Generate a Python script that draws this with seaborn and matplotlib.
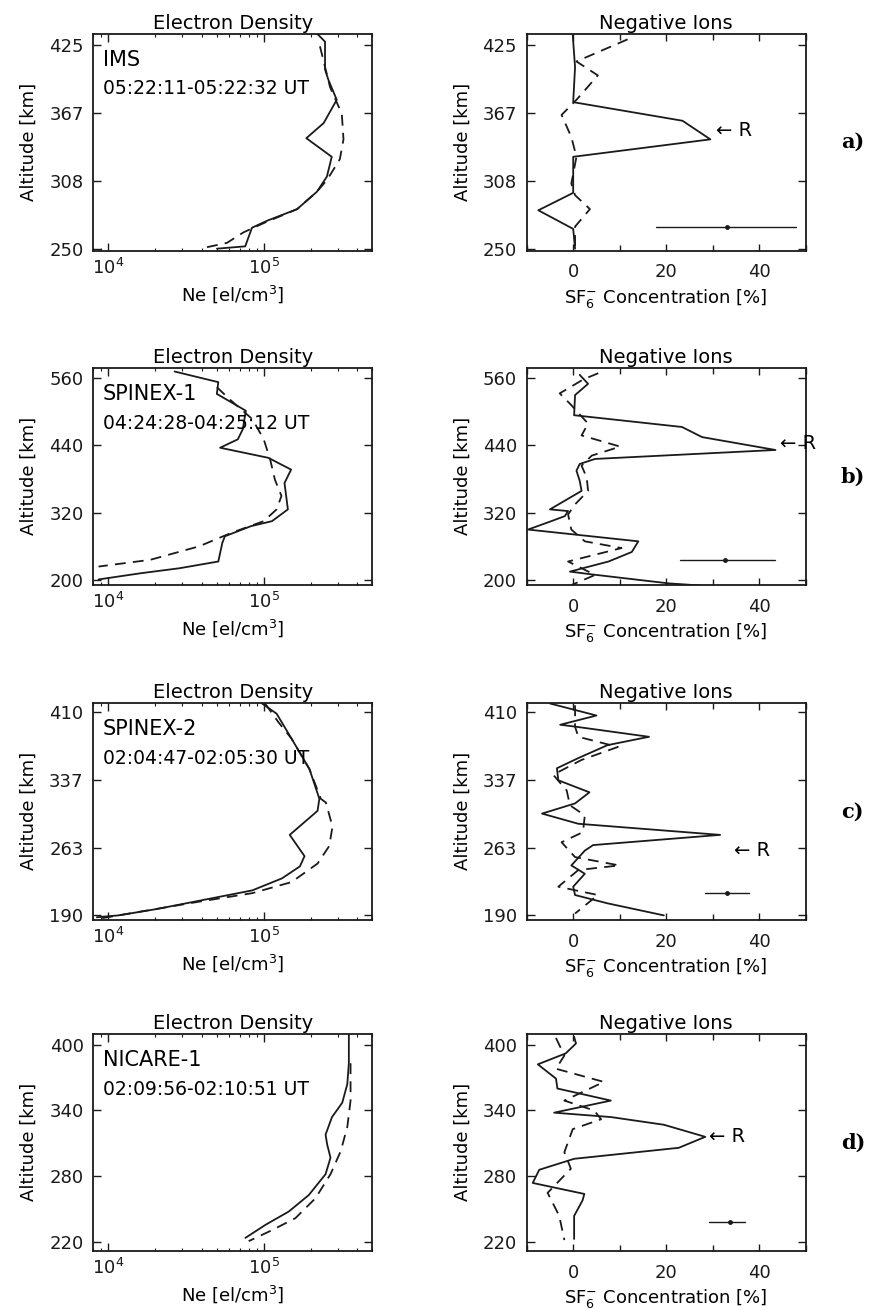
import numpy as np
import matplotlib
matplotlib.use("Agg")
import matplotlib.pyplot as plt
from matplotlib.ticker import MultipleLocator, NullFormatter
import seaborn as sns

# ---- data ----
# panel a) IMS
a_ne_alt = [435, 428, 404, 395, 378, 358, 345, 329, 312, 299, 284, 274, 268, 252, 250]
a_ne = [2.2e5, 2.48e5, 2.48e5, 2.61e5, 2.95e5, 2.43e5, 1.88e5, 2.74e5, 2.55e5, 2.2e5, 1.64e5, 1.05e5, 8.4e4, 7.6e4, 5.0e4]
a_ne_mod_alt = [424, 389, 366, 344, 327, 318, 309, 299, 284, 272, 264, 255, 250]
a_ne_mod = [2.3e5, 2.67e5, 3.18e5, 3.26e5, 3.09e5, 2.81e5, 2.55e5, 2.2e5, 1.64e5, 1.0e5, 7.4e4, 5.8e4, 3.9e4]
a_sf6_alt = [434, 406, 376, 360, 344, 329, 298, 283, 267, 250]
a_sf6 = [-0.1, 0.4, 0, 23.5, 29.5, 0, 0, -7.5, 0, 0.4]
a_sf6_mod_alt = [430, 411, 399, 378, 365, 346, 329, 306, 296, 284, 269, 250]
a_sf6_mod = [11.7, 0.7, 5.3, 0.7, -2.5, -0.4, 0.7, -0.4, 0.4, 3.6, 0.4, 0.4]

# panel b) SPINEX-1
b_ne_alt = [572, 553, 532, 502, 469, 451, 436, 418, 397, 373, 346, 326, 305, 296, 278, 266, 233, 221, 212, 201]
b_ne = [2.67e4, 5.1e4, 4.99e4, 7.67e4, 7.33e4, 6.81e4, 5.24e4, 1.07e5, 1.5e5, 1.36e5, 1.4e5, 1.43e5, 1.13e5, 8.26e4,
        5.62e4, 5.41e4, 5.1e4, 2.87e4, 1.61e4, 8.65e3]
b_ne_mod_alt = [544, 520, 487, 451, 415, 379, 350, 326, 305, 284, 260, 236, 224]
b_ne_mod = [4.99e4, 6.17e4, 8.45e4, 1.0e5, 1.1e5, 1.18e5, 1.3e5, 1.21e5, 1.0e5, 6.17e4, 3.83e4, 1.86e4, 8.65e3]
b_sf6_alt = [566, 550, 530, 494, 473, 455, 432, 416, 407, 395, 377, 359, 326, 323, 314, 305, 290, 269, 250, 233,
             215, 210, 194, 190]
b_sf6 = [1.4, 3.2, 0.4, 0.2, 23.4, 27.7, 43.5, 4.7, 1.4, 0.7, 1.4, 1.8, -5.0, -1.1, -1.8, -4.7, -9.7, 14.0, 12.6,
         7.6, -0.7, 4.0, 20.5, 27.7]
b_sf6_mod_alt = [569, 558, 533, 512, 479, 458, 438, 422, 404, 383, 359, 335, 317, 290, 269, 257, 233, 209, 191]
b_sf6_mod = [5.4, 2.2, -2.9, -0.4, 3.2, 1.8, 10.1, 4.0, 1.8, 2.9, 3.2, 0.4, -1.1, -0.4, 2.5, 10.4, -1.1, 4.7, -0.4]

# panel c) SPINEX-2
c_ne_alt = [419, 408, 381, 348, 316, 303, 277, 254, 243, 230, 217, 206, 197, 190, 188]
c_ne = [9.75e4, 1.21e5, 1.51e5, 1.97e5, 2.28e5, 2.22e5, 1.47e5, 1.83e5, 1.71e5, 1.31e5, 8.43e4, 3.89e4, 2.07e4,
        1.16e4, 8.43e3]
c_ne_mod_alt = [419, 399, 381, 348, 316, 312, 286, 265, 246, 226, 214, 205, 190, 186]
c_ne_mod = [1.02e5, 1.24e5, 1.51e5, 1.97e5, 2.33e5, 2.51e5, 2.77e5, 2.64e5, 2.22e5, 1.51e5, 8.43e4, 3.89e4, 1.16e4, 8.43e3]
c_sf6_alt = [419, 406, 396, 394, 383, 374, 360, 349, 336, 323, 311, 300, 289, 277, 266, 260, 244, 235, 221, 212, 203, 190]
c_sf6 = [-5.0, 5.0, -2.8, 0.4, 16.3, 7.4, 1.1, -3.5, -3.2, 3.5, 0.4, -6.7, 1.1, 31.6, 4.3, 2.5, -0.4, 2.5, 0, 0.4, 7.4, 19.5]
c_sf6_mod_alt = [417, 394, 383, 372, 358, 342, 325, 309, 298, 280, 269, 253, 244, 239, 221, 212, 192]
c_sf6_mod = [0.4, 0.4, 1.1, 9.6, 1.8, -4.3, -1.4, -0.7, 2.5, 2.1, -2.5, 0.4, 9.9, 1.1, -3.2, 5.3, 0.4]

# panel d) NICARE-1
d_ne_alt = [410, 383, 364, 347, 334, 318, 309, 297, 282, 263, 248, 236, 224]
d_ne = [3.53e5, 3.53e5, 3.45e5, 3.2e5, 2.75e5, 2.5e5, 2.56e5, 2.69e5, 2.5e5, 1.95e5, 1.45e5, 1.03e5, 7.62e4]
d_ne_mod_alt = [383, 349, 325, 303, 282, 260, 242, 231, 221]
d_ne_mod = [3.62e5, 3.62e5, 3.45e5, 3.13e5, 2.69e5, 2.15e5, 1.6e5, 1.13e5, 8.0e4]
d_sf6_alt = [407, 401, 392, 382, 369, 360, 349, 338, 334, 327, 316, 306, 296, 286, 274, 264, 258, 244, 223]
d_sf6 = [0.2, 0.6, -1.6, -7.6, -3.7, -3.4, 8.1, -4.1, 8.1, 19.5, 28.4, 22.7, 0.2, -7.3, -8.7, 2.4, 2.0, 0.2, 0.2]
d_sf6_mod_alt = [406, 390, 378, 366, 349, 340, 332, 323, 302, 287, 265, 244, 222]
d_sf6_mod = [-3.7, -1.9, -3.7, 6.6, -1.9, 4.5, 6.0, -0.1, -1.9, -0.5, -5.5, -3.0, -1.9]

rockets = ["IMS", "SPINEX-1", "SPINEX-2", "NICARE-1"]
times = ["05:22:11-05:22:32 UT", "04:24:28-04:25:12 UT", "02:04:47-02:05:30 UT", "02:09:56-02:10:51 UT"]
panel_tags = ["a)", "b)", "c)", "d)"]
alt_lo = [250, 200, 190, 220]
alt_hi = [425, 560, 410, 400]
ylims = [(248, 435), (191, 579), (185, 420), (212, 410)]
r_alt = [352, 443, 260, 316]
r_x = [30.8, 44.5, 34.5, 29.3]
err_lo = [17.8, 23.0, 28.4, 29.1]
err_hi = [48.0, 43.5, 37.9, 37.0]
err_mid = [33.0, 32.7, 33.0, 33.8]
err_alt = [268.8, 236, 214.5, 238.3]

ne_sets = [(a_ne, a_ne_alt, a_ne_mod, a_ne_mod_alt), (b_ne, b_ne_alt, b_ne_mod, b_ne_mod_alt),
           (c_ne, c_ne_alt, c_ne_mod, c_ne_mod_alt), (d_ne, d_ne_alt, d_ne_mod, d_ne_mod_alt)]
sf6_sets = [(a_sf6, a_sf6_alt, a_sf6_mod, a_sf6_mod_alt), (b_sf6, b_sf6_alt, b_sf6_mod, b_sf6_mod_alt),
            (c_sf6, c_sf6_alt, c_sf6_mod, c_sf6_mod_alt), (d_sf6, d_sf6_alt, d_sf6_mod, d_sf6_mod_alt)]

sns.set_theme(style="ticks")
plt.rcParams['font.family'] = ['DejaVu Sans']
plt.rcParams['axes.linewidth'] = 1.3
for key in ['text.color', 'axes.labelcolor', 'xtick.color', 'ytick.color', 'axes.edgecolor']:
    plt.rcParams[key] = 'black'

fig = plt.figure(figsize=(8.72, 13.1), dpi=100)

row_bottoms = [0.8084, 0.5534, 0.2977, 0.045]
row_h = 0.166
LW = 1.3


def style_axis(ax, lo, hi, ylim):
    ticks = np.linspace(lo, hi, 4)
    ax.set_yticks(ticks)
    ax.set_yticklabels([f"{t:.0f}" for t in ticks])
    ax.set_ylim(*ylim)
    ax.tick_params(which='both', direction='in', top=True, right=True, colors='k', labelsize=13)
    ax.tick_params(axis='y', which='major', length=6, width=1, pad=7)
    ax.set_ylabel("Altitude [km]", fontsize=13, labelpad=8)
    for s in ax.spines.values():
        s.set_color('k')


for i in range(4):
    yb = row_bottoms[i]
    # electron density
    ax = fig.add_axes([0.107, yb, 0.32, row_h])
    ne, ne_alt, ne_mod, ne_mod_alt = ne_sets[i]
    sns.lineplot(x=ne, y=ne_alt, sort=False, estimator=None, color='k', lw=LW, ax=ax)
    sns.lineplot(x=ne_mod, y=ne_mod_alt, sort=False, estimator=None, color='k', lw=LW,
                 linestyle=(0, (6, 4)), ax=ax)
    ax.set_xscale('log')
    ax.set_xlim(8e3, 5e5)
    ax.set_xticks([1e4, 1e5])
    ax.set_xticklabels([r"$10^4$", r"$10^5$"])
    ax.xaxis.set_minor_formatter(NullFormatter())
    style_axis(ax, alt_lo[i], alt_hi[i], ylims[i])
    ax.tick_params(axis='x', which='major', length=6, width=1, pad=5)
    ax.tick_params(axis='x', which='minor', length=2, width=0.8)
    ax.set_xlabel(r"Ne [el/cm$^3$]", fontsize=13, labelpad=4)
    ax.set_title("Electron Density", fontsize=14, pad=3)
    ax.text(0.035, 0.88, rockets[i], transform=ax.transAxes, fontsize=15, va='center', ha='left')
    ax.text(0.035, 0.745, times[i], transform=ax.transAxes, fontsize=13.5, va='center', ha='left')

    # negative ions
    ax2 = fig.add_axes([0.604, yb, 0.32, row_h])
    sf, sf_alt, sf_mod, sf_mod_alt = sf6_sets[i]
    sns.lineplot(x=sf, y=sf_alt, sort=False, estimator=None, color='k', lw=LW, ax=ax2)
    sns.lineplot(x=sf_mod, y=sf_mod_alt, sort=False, estimator=None, color='k', lw=LW,
                 linestyle=(0, (6, 4)), ax=ax2)
    ax2.plot([err_lo[i], err_hi[i]], [err_alt[i], err_alt[i]], color='k', lw=1)
    ax2.plot([err_mid[i]], [err_alt[i]], marker='o', ms=2.5, color='k')
    ax2.set_xlim(-10, 50)
    ax2.set_xticks([0, 20, 40])
    ax2.xaxis.set_minor_locator(MultipleLocator(10))
    style_axis(ax2, alt_lo[i], alt_hi[i], ylims[i])
    ax2.tick_params(axis='x', which='major', length=5, width=1, pad=9)
    ax2.tick_params(axis='x', which='minor', length=4, width=1)
    ax2.set_xlabel(r"SF$_6^{-}$ Concentration [%]", fontsize=13, labelpad=4)
    ax2.set_title("Negative Ions", fontsize=14, pad=3)
    ax2.text(r_x[i], r_alt[i], "\u2190 R", fontsize=14, va='center', ha='left', clip_on=False)

    fig.text(0.978, yb + 0.083, panel_tags[i], fontsize=15, fontweight='bold',
             family='DejaVu Serif', ha='center', va='center')

fig.savefig("out.png", dpi=100)
